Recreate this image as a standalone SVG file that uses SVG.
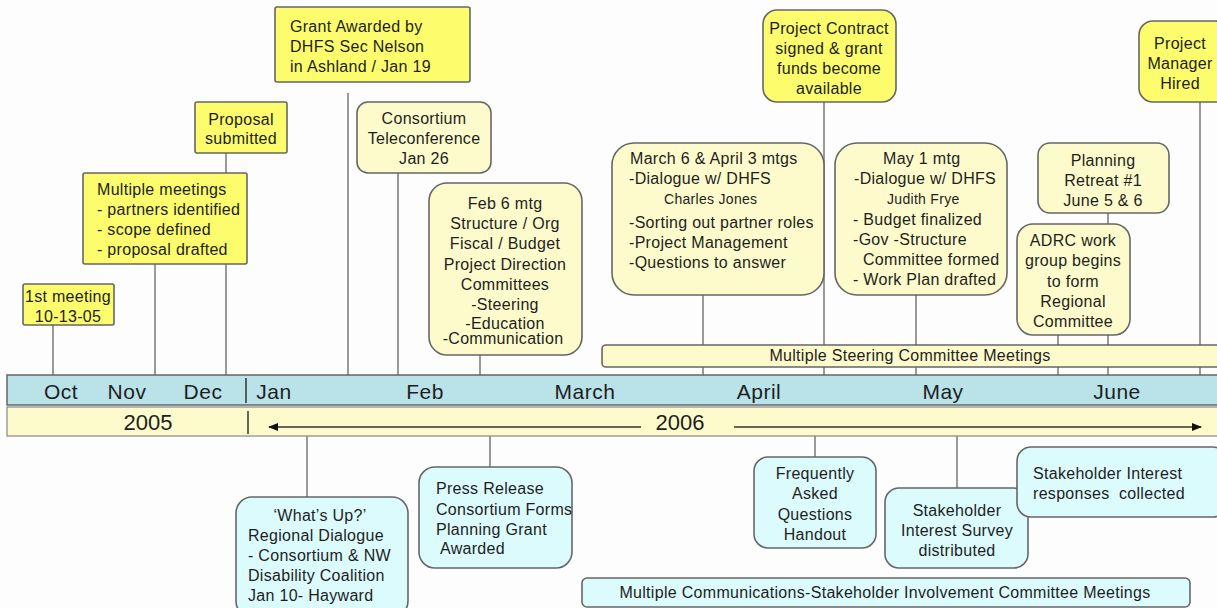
<svg xmlns="http://www.w3.org/2000/svg" width="1217" height="608" viewBox="0 0 1217 608">
<defs>
<style>
text{font-family:"Liberation Sans",Arial,Helvetica,sans-serif;fill:#1e1e1e;font-size:16px;letter-spacing:0.3px}
.c{text-anchor:middle}
.sm{font-size:14px}
.pre{white-space:pre}
.box{stroke:#666;stroke-width:1.6}
.yb{fill:#fcfc6c}
.yl{fill:#fdfbcb}
.cy{fill:#dcfbfd}
.link{stroke:#9a9a9a;stroke-width:2;fill:none}
.mon{font-size:21px;letter-spacing:0.5px}
.yr{font-size:22px;letter-spacing:0}
.sep{stroke:#333;stroke-width:1.5}
.arr{stroke:#333;stroke-width:1.5;fill:none}
</style>
<marker id="head" viewBox="0 0 10 8" refX="9" refY="4" markerWidth="10" markerHeight="8" markerUnits="userSpaceOnUse" orient="auto-start-reverse">
<path d="M0,0 L10,4 L0,8 z" fill="#111"/>
</marker>
</defs>
<rect width="1217" height="608" fill="#fdfdfd"/>

<!-- connectors from events to the time axis -->
<g id="connectors">
<line class="link" x1="53" y1="325" x2="53" y2="375"/>
<line class="link" x1="155" y1="264" x2="155" y2="375"/>
<line class="link" x1="226" y1="153" x2="226" y2="375"/>
<line class="link" x1="348" y1="93" x2="348" y2="375"/>
<line class="link" x1="398" y1="173" x2="398" y2="375"/>
<line class="link" x1="480" y1="355" x2="480" y2="375"/>
<line class="link" x1="703" y1="295" x2="703" y2="375"/>
<line class="link" x1="824" y1="102" x2="824" y2="375"/>
<line class="link" x1="916" y1="295" x2="916" y2="375"/>
<line class="link" x1="1058" y1="335" x2="1058" y2="375"/>
<line class="link" x1="1108" y1="213" x2="1108" y2="375"/>
<line class="link" x1="1200" y1="102" x2="1200" y2="375"/>
<line class="link" x1="307" y1="436" x2="307" y2="497"/>
<line class="link" x1="490" y1="436" x2="490" y2="467"/>
<line class="link" x1="815" y1="436" x2="815" y2="457"/>
<line class="link" x1="957" y1="436" x2="957" y2="488"/>
</g>

<!-- time axis: months and years -->
<g id="axis">
<rect x="7" y="375" width="1215" height="30" fill="#b9e3e9" stroke="#666" stroke-width="1.5"/>
<rect x="7" y="407" width="1215" height="29" fill="#fdfbcb" stroke="#888" stroke-width="1.2"/>
<line class="sep" x1="246" y1="378" x2="246" y2="403"/>
<line class="sep" x1="248" y1="411" x2="248" y2="434"/>
<text class="c mon" x="61" y="399">Oct</text>
<text class="c mon" x="127" y="399">Nov</text>
<text class="c mon" x="203" y="399">Dec</text>
<text class="c mon" x="274" y="399">Jan</text>
<text class="c mon" x="425" y="399">Feb</text>
<text class="c mon" x="585" y="399">March</text>
<text class="c mon" x="759" y="399">April</text>
<text class="c mon" x="943" y="399">May</text>
<text class="c mon" x="1117" y="399">June</text>
<text class="c yr" x="148" y="430">2005</text>
<text class="c yr" x="680" y="430">2006</text>
<line class="arr" x1="269" y1="427" x2="641" y2="427" marker-start="url(#head)"/>
<line class="arr" x1="734" y1="427" x2="1201" y2="427" marker-end="url(#head)"/>
</g>

<g id="first-meeting">
<rect class="box yb" x="23" y="284" width="91" height="41" rx="2"/>
<text class="c" x="68" y="302">1st meeting</text>
<text class="c" x="68" y="322">10-13-05</text>
</g>

<g id="multiple-meetings">
<rect class="box yb" x="83" y="173" width="164" height="91" rx="2"/>
<text x="97" y="195">Multiple meetings</text>
<text x="97" y="215">- partners identified</text>
<text x="97" y="235">- scope defined</text>
<text x="97" y="255">- proposal drafted</text>
</g>

<g id="proposal">
<rect class="box yb" x="195" y="102" width="92" height="51" rx="2"/>
<text class="c" x="241" y="125">Proposal</text>
<text class="c" x="241" y="144">submitted</text>
</g>

<g id="grant-awarded">
<rect class="box yb" x="275" y="7" width="195" height="75" rx="2"/>
<text x="290" y="32">Grant Awarded by</text>
<text x="290" y="52">DHFS Sec Nelson</text>
<text x="290" y="72">in Ashland / Jan 19</text>
</g>

<g id="teleconference">
<rect class="box yl" x="357" y="102" width="134" height="71" rx="11"/>
<text class="c" x="424" y="124">Consortium</text>
<text class="c" x="424" y="144">Teleconference</text>
<text class="c" x="424" y="164">Jan 26</text>
</g>

<g id="feb-meeting">
<rect class="box yl" x="429" y="183" width="153" height="172" rx="18"/>
<text class="c" x="505" y="209">Feb 6 mtg</text>
<text class="c" x="505" y="229">Structure / Org</text>
<text class="c" x="505" y="249">Fiscal / Budget</text>
<text class="c" x="505" y="270">Project Direction</text>
<text class="c" x="505" y="290">Committees</text>
<text class="c" x="505" y="310">-Steering</text>
<text class="c" x="505" y="329">-Education</text>
<text class="c" x="503" y="344">-Communication</text>
</g>

<g id="march-april-meetings">
<rect class="box yl" x="612" y="143" width="212" height="152" rx="22"/>
<text x="630" y="164">March 6 &amp; April 3 mtgs</text>
<text x="629" y="184">-Dialogue w/ DHFS</text>
<text class="sm" x="664" y="204">Charles Jones</text>
<text x="629" y="228">-Sorting out partner roles</text>
<text x="629" y="248">-Project Management</text>
<text x="629" y="268">-Questions to answer</text>
</g>

<g id="project-contract">
<rect class="box yb" x="763" y="10" width="133" height="92" rx="14"/>
<text class="c" x="829" y="34">Project Contract</text>
<text class="c" x="829" y="54">signed &amp; grant</text>
<text class="c" x="829" y="74">funds become</text>
<text class="c" x="829" y="94">available</text>
</g>

<g id="may-meeting">
<rect class="box yl" x="835" y="143" width="172" height="152" rx="22"/>
<text x="883" y="164">May 1 mtg</text>
<text x="854" y="184">-Dialogue w/ DHFS</text>
<text class="sm" x="887" y="204">Judith Frye</text>
<text x="853" y="225">- Budget finalized</text>
<text x="853" y="245">-Gov -Structure</text>
<text x="863" y="265">Committee formed</text>
<text x="853" y="285">- Work Plan drafted</text>
</g>

<g id="steering-meetings">
<rect class="box yl" x="602" y="345" width="625" height="22" rx="4"/>
<text class="c" x="910" y="361">Multiple Steering Committee Meetings</text>
</g>

<g id="planning-retreat">
<rect class="box yl" x="1038" y="143" width="131" height="70" rx="12"/>
<text class="c" x="1103" y="166">Planning</text>
<text class="c" x="1103" y="186">Retreat #1</text>
<text class="c" x="1103" y="206">June 5 &amp; 6</text>
</g>

<g id="adrc-work-group">
<rect class="box yl" x="1017" y="224" width="113" height="111" rx="16"/>
<text class="c" x="1073" y="246">ADRC work</text>
<text class="c" x="1073" y="266">group begins</text>
<text class="c" x="1073" y="287">to form</text>
<text class="c" x="1073" y="307">Regional</text>
<text class="c" x="1073" y="327">Committee</text>
</g>

<g id="project-manager">
<rect class="box yb" x="1139" y="21" width="90" height="81" rx="14"/>
<text class="c" x="1180" y="49">Project</text>
<text class="c" x="1180" y="69">Manager</text>
<text class="c" x="1180" y="89">Hired</text>
</g>

<g id="regional-dialogue">
<rect class="box cy" x="236" y="497" width="172" height="120" rx="16"/>
<text class="c" x="320" y="521">‘What’s Up?’</text>
<text x="248" y="541">Regional Dialogue</text>
<text x="248" y="561">- Consortium &amp; NW</text>
<text x="248" y="581">Disability Coalition</text>
<text x="248" y="601">Jan 10- Hayward</text>
</g>

<g id="press-release">
<rect class="box cy" x="419" y="467" width="153" height="101" rx="16"/>
<text x="436" y="494">Press Release</text>
<text x="436" y="515">Consortium Forms</text>
<text x="436" y="535">Planning Grant</text>
<text x="440" y="554">Awarded</text>
</g>

<g id="faq-handout">
<rect class="box cy" x="754" y="457" width="122" height="91" rx="14"/>
<text class="c" x="815" y="479">Frequently</text>
<text class="c" x="815" y="499">Asked</text>
<text class="c" x="815" y="520">Questions</text>
<text class="c" x="815" y="540">Handout</text>
</g>

<g id="interest-survey">
<rect class="box cy" x="885" y="488" width="143" height="80" rx="14"/>
<text class="c" x="957" y="516">Stakeholder</text>
<text class="c" x="957" y="536">Interest Survey</text>
<text class="c" x="957" y="556">distributed</text>
</g>

<g id="interest-responses">
<rect class="box cy" x="1017" y="447" width="210" height="70" rx="14"/>
<text x="1033" y="479">Stakeholder Interest</text>
<text class="pre" x="1033" y="499">responses  collected</text>
</g>

<g id="communications-meetings">
<rect class="box cy" x="582" y="578" width="608" height="29" rx="5"/>
<text class="c" x="885" y="598">Multiple Communications-Stakeholder Involvement Committee Meetings</text>
</g>
</svg>
